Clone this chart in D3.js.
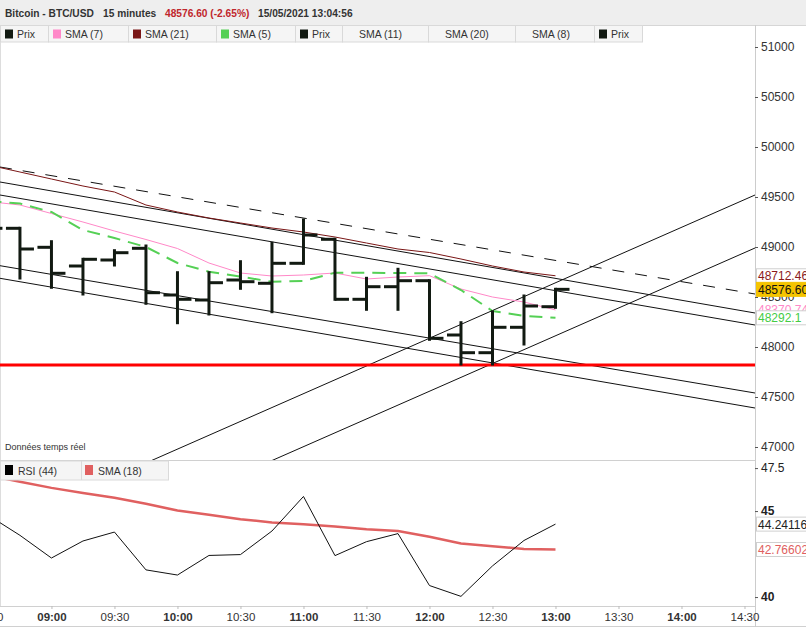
<!DOCTYPE html>
<html><head><meta charset="utf-8">
<script src="https://cdn.jsdelivr.net/npm/d3@7"></script>
<style>
body{margin:0;background:#fff;}
svg{display:block;font-family:"Liberation Sans",Arial,sans-serif;}
</style></head><body>
<svg id="c" width="806" height="627"></svg>
<script>
// ---------------- DATA ----------------
const times = ["08:30","08:45","09:00","09:15","09:30","09:45","10:00","10:15","10:30","10:45","11:00","11:15","11:30","11:45","12:00","12:15","12:30","12:45","13:00"];
const openP  = [49300,49187,48997,48810,48870,48987,48520,48470,48670,48637,48837,49077,48477,48603,48663,48120,47943,48197,48403];
const highP  = [49350,49187,49053,48877,48963,49010,48743,48743,48853,49037,49270,49077,48687,48777,48663,48243,48353,48510,48577];
const lowP   = [49150,48690,48597,48530,48820,48437,48243,48330,48587,48353,48837,48477,48377,48377,48077,47830,47830,48030,48397];
const closeP = [49187,48980,48737,48877,48943,48543,48477,48643,48653,48837,49120,48477,48603,48663,48087,47943,48197,48410,48576.6];
const sma7   = [49455,49420,49335,49250,49160,49075,48985,48840,48740,48710,48720,48740,48680,48700,48713,48580,48500,48450,48370.74];
const sma21  = [49820,49750,49680,49610,49550,49420,49350,49290,49240,49190,49150,49100,49040,48980,48945,48880,48810,48750,48712.46];
const sma5   = [49460,49435,49350,49170,49090,49000,48840,48753,48703,48653,48660,48743,48743,48740,48737,48570,48360,48310,48292.1];
const rsi44  = [44.75,43.59,42.27,43.26,43.78,41.58,41.28,42.42,42.47,43.84,45.85,42.41,43.22,43.69,40.67,40.04,41.81,43.29,44.24116];
const rsiSma18 = [47.07,46.70,46.35,46.05,45.77,45.42,45.03,44.79,44.53,44.34,44.24,44.10,43.94,43.84,43.51,43.12,42.96,42.80,42.76602];
const supportLevel = 47820;
// trend lines: [startTime, startPrice, endTime, endPrice, dashed]
const trendStartT = ["08:35:30","08:35:30","08:35:30","08:35:30","08:35:30","08:35:30","08:35:30"];
const trendStartP = [49800,49650,49520,48813,48687,46198,45668];
const trendEndT   = ["14:35","14:35","14:35","14:35","14:35","14:35","14:35"];
const trendEndP   = [48530,48340,48220,47540,47390,49520,48990];
const trendDashed = [true,false,false,false,false,false,false];
const priceTicks = [47000,47500,48000,48500,49000,49500,50000,50500,51000];
const rsiTicks = [40,45,47.5];
const rsiTickBold = [true,true,false];
const timeTicks = ["08:30","09:00","09:30","10:00","10:30","11:00","11:30","12:00","12:30","13:00","13:30","14:00","14:30"];
const legendNames = ["Prix","SMA (7)","SMA (21)","SMA (5)","Prix","SMA (11)","SMA (20)","SMA (8)","Prix"];
const legendColors = ["#121a12","#ff88c8","#7a1616","#55d055","#121a12",null,null,null,"#121a12"];

// ---------------- LAYOUT ----------------
const svg = d3.select("#c");
const plotL = 0, plotR = 755, mainT = 42, mainB = 460, rsiT = 460, rsiB = 606;
const parseT = s => { const [h,m,sec] = s.split(":").map(Number); return new Date(2021,4,15,h,m,sec||0); };
const x = d3.scaleTime().domain([parseT("08:35:30"), parseT("14:35")]).range([plotL, plotR]);
const y = d3.scaleLinear().domain([46870, 51050]).range([mainB, mainT]);
const yr = d3.scaleLinear().domain([39.48, 47.97]).range([rsiB, rsiT]);
const T = times.map(parseT);

const defs = svg.append("defs");
defs.append("clipPath").attr("id","cm").append("rect").attr("x",plotL).attr("y",mainT).attr("width",plotR-plotL).attr("height",mainB-mainT);
defs.append("clipPath").attr("id","cr").append("rect").attr("x",plotL).attr("y",rsiT).attr("width",plotR-plotL).attr("height",rsiB-rsiT);

// header
svg.append("rect").attr("x",0).attr("y",0).attr("width",806).attr("height",25).attr("fill","#eeeeee");
svg.append("line").attr("x1",0).attr("x2",806).attr("y1",25.5).attr("y2",25.5).attr("stroke","#d6d6d6");
const title = svg.append("text").attr("y",17).attr("font-size",10.2).attr("font-weight","bold").attr("fill","#333");
title.append("tspan").attr("x",5).text("Bitcoin - BTC/USD");
title.append("tspan").attr("x",103).text("15 minutes");
title.append("tspan").attr("x",165).attr("fill","#c0262c").text("48576.60 (-2.65%)");
title.append("tspan").attr("x",258).text("15/05/2021 13:04:56");

// legend row
const cellX = [0,48,128,216,295,342,428,515,594,642];
legendNames.forEach((n,i)=>{
  svg.append("rect").attr("x",cellX[i]+0.5).attr("y",25.5).attr("width",cellX[i+1]-cellX[i]).attr("height",16.5)
    .attr("fill","#f5f5f5").attr("stroke","#d9d9d9");
  const c = legendColors[i];
  if (c) {
    svg.append("rect").attr("x",cellX[i]+5).attr("y",29.5).attr("width",8).attr("height",9).attr("fill",c);
  }
  svg.append("text").attr("x",cellX[i]+17).attr("y",38).attr("font-size",10.5).attr("fill","#333").text(n);
});

// borders
svg.append("line").attr("x1",0.5).attr("x2",0.5).attr("y1",42).attr("y2",rsiB).attr("stroke","#dddddd");
svg.append("line").attr("x1",0).attr("x2",plotR).attr("y1",mainB+0.5).attr("y2",mainB+0.5).attr("stroke","#d0d0d0");
svg.append("line").attr("x1",0).attr("x2",plotR).attr("y1",rsiB+0.5).attr("y2",rsiB+0.5).attr("stroke","#d0d0d0");
svg.append("line").attr("x1",0).attr("x2",806).attr("y1",626.5).attr("y2",626.5).attr("stroke","#d0d0d0");
svg.append("line").attr("x1",plotR+0.5).attr("x2",plotR+0.5).attr("y1",25).attr("y2",627).attr("stroke","#cccccc");

// ---------------- MAIN PANEL ----------------
const gm = svg.append("g").attr("clip-path","url(#cm)");
trendStartP.forEach((p,i)=>{
  gm.append("line")
    .attr("x1",x(parseT(trendStartT[i]))).attr("y1",y(p))
    .attr("x2",x(parseT(trendEndT[i]))).attr("y2",y(trendEndP[i]))
    .attr("stroke","#111").attr("stroke-width",1)
    .attr("stroke-dasharray",trendDashed[i]?"12,11":null);
});
gm.append("line").attr("x1",plotL).attr("x2",plotR).attr("y1",y(supportLevel)).attr("y2",y(supportLevel))
  .attr("stroke","#ff0000").attr("stroke-width",3);

const lineGen = arr => d3.line().x((d,i)=>x(T[i])).y(d=>y(d))(arr);
gm.append("path").attr("d",lineGen(sma21)).attr("fill","none").attr("stroke","#7a1616").attr("stroke-width",1);
gm.append("path").attr("d",lineGen(sma7)).attr("fill","none").attr("stroke","#ff88c8").attr("stroke-width",1);
gm.append("path").attr("d",lineGen(sma5)).attr("fill","none").attr("stroke","#55d055").attr("stroke-width",2).attr("stroke-dasharray","13,8");

const tick = 14;
T.forEach((t,i)=>{
  const cx = x(t);
  gm.append("line").attr("x1",cx).attr("x2",cx).attr("y1",y(highP[i])-1.5).attr("y2",y(lowP[i])+1.5)
    .attr("stroke","#121a12").attr("stroke-width",3);
  gm.append("line").attr("x1",cx-tick).attr("x2",cx).attr("y1",y(openP[i])).attr("y2",y(openP[i]))
    .attr("stroke","#121a12").attr("stroke-width",3);
  gm.append("line").attr("x1",cx).attr("x2",cx+tick).attr("y1",y(closeP[i])).attr("y2",y(closeP[i]))
    .attr("stroke","#121a12").attr("stroke-width",3);
});

svg.append("text").attr("x",5).attr("y",450).attr("font-size",9).attr("fill","#333").text("Données temps réel");

// price axis
const ax = svg.append("g").attr("transform",`translate(${plotR},0)`)
  .call(d3.axisRight(y).tickValues(priceTicks).tickSize(3).tickPadding(3).tickFormat(d3.format("d")));
ax.select(".domain").remove();
ax.selectAll("line").attr("stroke","#555");
ax.selectAll("text").attr("font-size",12).attr("fill","#333").attr("font-family","Liberation Sans, Arial");

// value labels
function valueLabel(v, txt, fg, bg, border){
  const cy = y(v);
  svg.append("rect").attr("x",plotR+1.5).attr("y",cy-7).attr("width",60).attr("height",14)
    .attr("fill",bg).attr("stroke",border);
  svg.append("text").attr("x",plotR+3).attr("y",cy+4.5).attr("font-size",12).attr("fill",fg).text(txt);
}
valueLabel(sma21[sma21.length-1], "48712.46", "#8b1a1a", "#fff", "#d0d0d0");
valueLabel(closeP[closeP.length-1], "48576.60", "#111", "#f5c400", "#f5c400");
valueLabel(sma7[sma7.length-1], "48370.74", "#ff88c8", "#fff", "#fff");
valueLabel(sma5[sma5.length-1], "48292.1", "#44cc44", "#fff", "#d0d0d0");

// ---------------- RSI PANEL ----------------
const gr = svg.append("g").attr("clip-path","url(#cr)");
const rLine = arr => d3.line().x((d,i)=>x(T[i])).y(d=>yr(d))(arr);
gr.append("path").attr("d",rLine(rsiSma18)).attr("fill","none").attr("stroke","#e06060").attr("stroke-width",2.5);
gr.append("path").attr("d",rLine(rsi44)).attr("fill","none").attr("stroke","#111").attr("stroke-width",1);

// RSI legend
svg.append("rect").attr("x",0.5).attr("y",461).attr("width",168).attr("height",19).attr("fill","#f5f5f5").attr("stroke","#dadada");
svg.append("line").attr("x1",81.5).attr("x2",81.5).attr("y1",461).attr("y2",480).attr("stroke","#dadada");
svg.append("rect").attr("x",5).attr("y",465).attr("width",8).attr("height",10).attr("fill","#000");
svg.append("text").attr("x",18).attr("y",475).attr("font-size",10.5).attr("fill","#333").text("RSI (44)");
svg.append("rect").attr("x",85).attr("y",465).attr("width",8).attr("height",10).attr("fill","#e06060");
svg.append("text").attr("x",98).attr("y",475).attr("font-size",10.5).attr("fill","#333").text("SMA (18)");

const axr = svg.append("g").attr("transform",`translate(${plotR},0)`)
  .call(d3.axisRight(yr).tickValues(rsiTicks).tickSize(3).tickPadding(3).tickFormat(d=>String(d)));
axr.select(".domain").remove();
axr.selectAll("line").attr("stroke","#555");
axr.selectAll("text").attr("font-size",12).attr("fill","#222")
  .attr("font-weight",(d,i)=>rsiTickBold[rsiTicks.indexOf(d)]?"bold":"normal");

function rsiLabel(v, txt, fg){
  const cy = yr(v);
  svg.append("rect").attr("x",plotR+1.5).attr("y",cy-7).attr("width",60).attr("height",14)
    .attr("fill","#fff").attr("stroke","#d0d0d0");
  svg.append("text").attr("x",plotR+3).attr("y",cy+4.5).attr("font-size",12).attr("fill",fg).text(txt);
}
rsiLabel(rsi44[rsi44.length-1], "44.24116", "#222");
rsiLabel(rsiSma18[rsiSma18.length-1], "42.76602", "#e06060");

// time axis
const axt = svg.append("g").attr("transform",`translate(0,${rsiB})`)
  .call(d3.axisBottom(x).tickValues(timeTicks.map(parseT)).tickSize(3).tickPadding(4).tickFormat(d3.timeFormat("%H:%M")));
axt.select(".domain").remove();
axt.selectAll("line").attr("stroke","#bbb");
axt.selectAll("text").attr("font-size",11.5).attr("fill","#333")
  .attr("font-weight",d=>d.getMinutes()===0?"bold":"normal");
</script>
</body></html>
